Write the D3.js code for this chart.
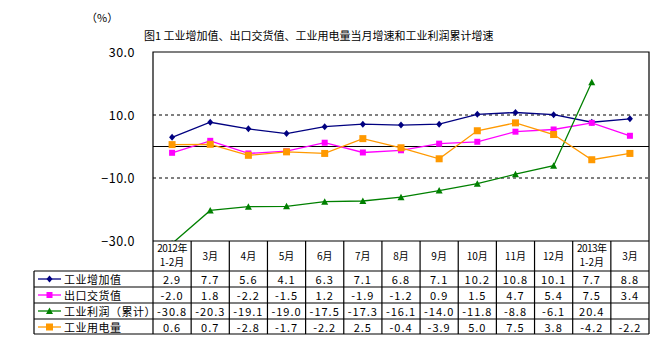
<!DOCTYPE html>
<html><head><meta charset="utf-8">
<script src="https://cdn.jsdelivr.net/npm/d3@7"></script>
<style>
body{margin:0;background:#fff;}
text{font-family:"Noto Sans CJK SC","DejaVu Sans",sans-serif;}
</style></head><body>
<svg id="c" width="668" height="348"></svg>
<script>
const months = ["2012年|1-2月","3月","4月","5月","6月","7月","8月","9月","10月","11月","12月","2013年|1-2月","3月"];
const seriesNames = ["工业增加值","出口交货值","工业利润（累计）","工业用电量"];
const industrialValueAdded = [2.9,7.7,5.6,4.1,6.3,7.1,6.8,7.1,10.2,10.8,10.1,7.7,8.8];
const exportDeliveryValue = [-2.0,1.8,-2.2,-1.5,1.2,-1.9,-1.2,0.9,1.5,4.7,5.4,7.5,3.4];
const industrialProfit = [-30.8,-20.3,-19.1,-19.0,-17.5,-17.3,-16.1,-14.0,-11.8,-8.8,-6.1,20.4,null];
const electricityUse = [0.6,0.7,-2.8,-1.7,-2.2,2.5,-0.4,-3.9,5.0,7.5,3.8,-4.2,-2.2];
const yTicks = [30,10,-10,-30];
const title = "图1 工业增加值、出口交货值、工业用电量当月增速和工业利润累计增速";
const unitLabel = "（%）";

const series = [
  {name:seriesNames[0], values:industrialValueAdded, color:"#000080", marker:"diamond"},
  {name:seriesNames[1], values:exportDeliveryValue, color:"#FF00FF", marker:"square"},
  {name:seriesNames[2], values:industrialProfit, color:"#008000", marker:"triangle"},
  {name:seriesNames[3], values:electricityUse, color:"#FF9900", marker:"bigsquare"}
];
</script>
<script>
const svg = d3.select("#c");
const L=153, R=649, T=52, B=241;
const idx = d3.range(months.length);
const x = d3.scaleBand().domain(idx).range([L,R]).padding(0);
const cx = i => x(i)+x.bandwidth()/2;
const y = d3.scaleLinear().domain([-30,30]).range([B,T]);

// title and unit
svg.append("text").attr("x",144).attr("y",40).attr("font-size",11).text(title);
svg.append("text").attr("x",86).attr("y",22).attr("font-size",11).text(unitLabel);

// grid
[10,-10].forEach(v=>{
  svg.append("line").attr("x1",L).attr("x2",R).attr("y1",y(v)).attr("y2",y(v))
    .attr("stroke","#000").attr("stroke-width",1).attr("stroke-dasharray","3,3");
});
svg.append("line").attr("x1",L).attr("x2",R).attr("y1",y(0)).attr("y2",y(0))
  .attr("stroke","#000").attr("stroke-width",1.2);

// axis
const ax = svg.append("g").attr("transform",`translate(${L},0)`)
  .call(d3.axisLeft(y).tickValues(yTicks).tickSize(0).tickPadding(18).tickFormat(d3.format(".1f")));
ax.select(".domain").remove();
ax.selectAll("text").attr("font-size",12.5).attr("fill","#000").attr("letter-spacing","0.5px")
  .style("font-family","'Noto Sans CJK SC',sans-serif");

// plot border (left, top, right)
svg.append("path").attr("d",`M${L},${B}V${T}H${R}V${B}`).attr("fill","none").attr("stroke","#000").attr("stroke-width",1.2);

// clip
svg.append("clipPath").attr("id","clip").append("rect").attr("x",L).attr("y",T).attr("width",R-L).attr("height",B-T);
const g = svg.append("g").attr("clip-path","url(#clip)");

function drawMarker(sel, type, color){
  if(type==="diamond") sel.append("path").attr("d","M0,-3.5L3,0L0,3.5L-3,0Z").attr("fill",color);
  else if(type==="square") sel.append("rect").attr("x",-3).attr("y",-3).attr("width",6).attr("height",6).attr("fill",color);
  else if(type==="bigsquare") sel.append("rect").attr("x",-3.5).attr("y",-3.5).attr("width",7).attr("height",7).attr("fill",color);
  else sel.append("path").attr("d","M0,-3.5L3.5,3L-3.5,3Z").attr("fill",color);
}

const line = d3.line().defined(d=>d.v!=null).x(d=>cx(d.i)).y(d=>y(d.v));
series.forEach(s=>{
  const pts = s.values.map((v,i)=>({i,v}));
  g.append("path").datum(pts).attr("d",line).attr("fill","none").attr("stroke",s.color).attr("stroke-width",1.3);
});
series.forEach(s=>{
  s.values.forEach((v,i)=>{
    if(v==null) return;
    const m = g.append("g").attr("transform",`translate(${cx(i)},${y(v)})`);
    drawMarker(m, s.marker, s.color);
  });
});

// table
const rowTop = 271, rowH = 16, nRows = 4;
const tb = svg.append("g");
const legL = 34;
const bottom = rowTop + rowH*nRows - 1;
tb.append("line").attr("x1",L).attr("x2",R).attr("y1",B).attr("y2",B).attr("stroke","#000").attr("stroke-width",1.2);
for(let r=0;r<=nRows;r++){
  const yy = r===nRows? bottom : rowTop + rowH*r;
  tb.append("line").attr("x1",legL).attr("x2",R).attr("y1",yy).attr("y2",yy).attr("stroke","#000").attr("stroke-width",1.2);
}
idx.concat([months.length]).forEach(i=>{
  const xx = i===months.length? R : x(i);
  tb.append("line").attr("x1",xx).attr("x2",xx).attr("y1",B).attr("y2",bottom).attr("stroke","#000").attr("stroke-width",1.2);
});
tb.append("line").attr("x1",legL).attr("x2",legL).attr("y1",rowTop).attr("y2",bottom).attr("stroke","#000").attr("stroke-width",1.2);

// header
months.forEach((m,i)=>{
  const parts = m.split("|");
  if(parts.length===1){
    tb.append("text").attr("x",cx(i)).attr("y",260).attr("text-anchor","middle").attr("font-size",10).text(parts[0]);
  } else {
    tb.append("text").attr("x",cx(i)).attr("y",252).attr("text-anchor","middle").attr("font-size",10).attr("letter-spacing","-0.5px").text(parts[0]);
    tb.append("text").attr("x",cx(i)).attr("y",266).attr("text-anchor","middle").attr("font-size",10).text(parts[1]);
  }
});

// rows
const fmt = d3.format(".1f");
series.forEach((s,r)=>{
  const yc = rowTop + rowH*r + rowH/2;
  tb.append("line").attr("x1",38).attr("x2",61).attr("y1",yc).attr("y2",yc).attr("stroke",s.color).attr("stroke-width",1.3);
  const m = tb.append("g").attr("transform",`translate(49.5,${yc})`);
  drawMarker(m, s.marker, s.color);
  tb.append("text").attr("x",64).attr("y",yc+4.5).attr("font-size",11).attr("letter-spacing","0.5px").text(s.name);
  s.values.forEach((v,i)=>{
    if(v==null) return;
    tb.append("text").attr("x",cx(i)).attr("y",yc+4.5).attr("text-anchor","middle").attr("font-size",11)
      .attr("letter-spacing","1px").text(fmt(v).replace("−","-"));
  });
});
</script>
</body></html>
